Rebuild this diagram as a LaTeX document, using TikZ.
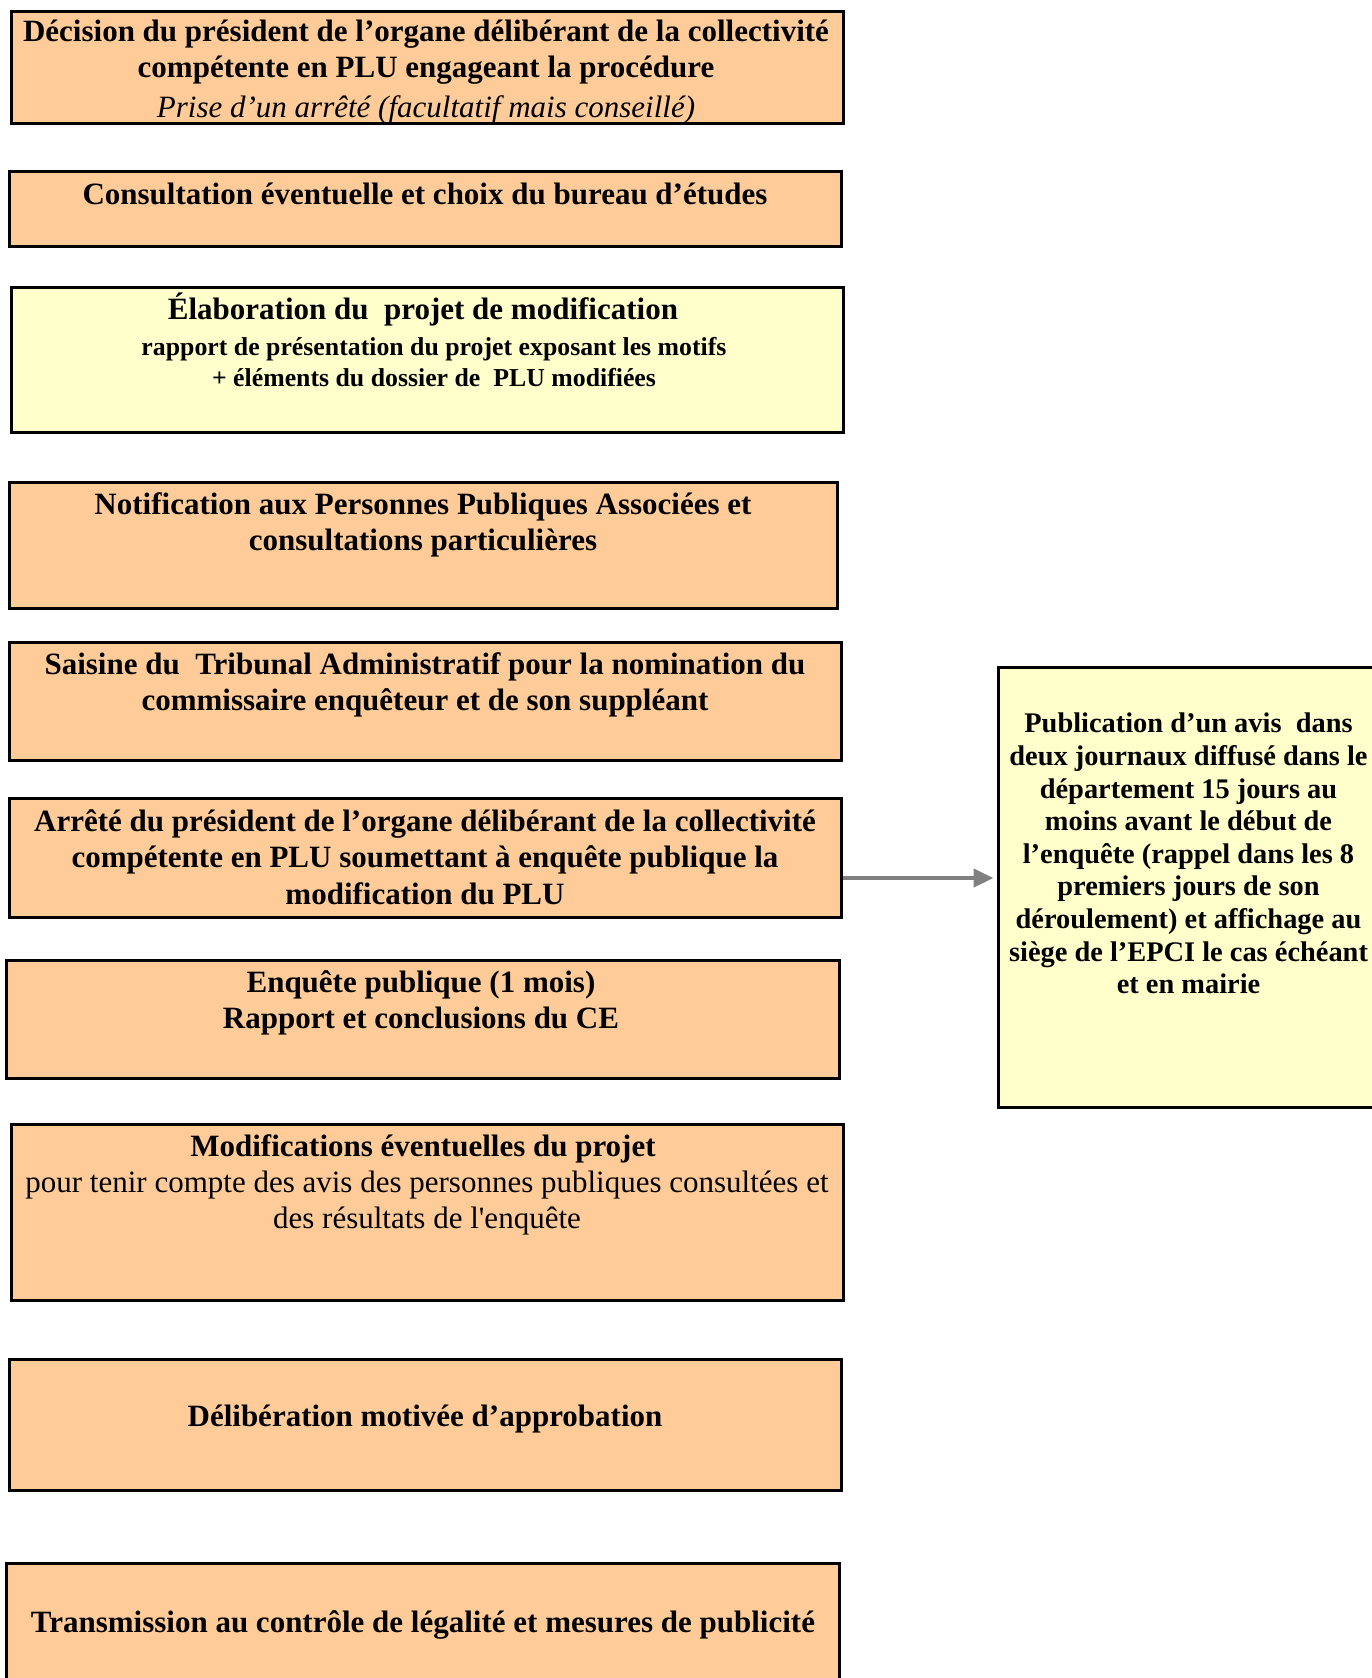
\documentclass[tikz,border=0pt]{standalone}
\usepackage{fontspec}
\setmainfont{Liberation Serif}
\usetikzlibrary{positioning, arrows.meta, calc}
\definecolor{peach}{HTML}{FFCC99}
\definecolor{paleyellow}{HTML}{FFFFCC}
\definecolor{arrowgray}{HTML}{808080}
\tikzset{
    stepbox/.style={draw=black, line width=1.5pt, inner sep=0pt},
    steptext/.style={align=center, inner sep=0pt, font=\fontsize{15.5}{18.2}\selectfont\bfseries},
    stepnote/.style={align=center, inner sep=0pt, font=\fontsize{15.5}{18.2}\selectfont},
    stepsmall/.style={align=center, inner sep=0pt, font=\fontsize{12.9}{15.5}\selectfont\bfseries},
    sidetext/.style={align=center, inner sep=0pt, font=\fontsize{14.2}{16.3}\selectfont\bfseries},
    flow/.style={draw=arrowgray, line width=2.2pt, -{Triangle[length=10pt, width=9pt]}}
}
\begin{document}
\begin{tikzpicture}[x=0.5pt, y=-0.5pt]
    \useasboundingbox (0,0) rectangle (1372,1678);

    % draw the step boxes
    \foreach \name/\cx/\cy/\w/\h/\co in {
        b1/427/67/832/112/peach,
        b2/425/208.5/832/75/peach,
        b3/427/359.5/832/145/paleyellow,
        b4/423/545/828/126/peach,
        b5/425/701/832/118/peach,
        b6/425/857.5/832/119/peach,
        b7/422.5/1019/833/118/peach,
        b8/427/1212/832/176/peach,
        b9/425/1424.5/832/131/peach,
        b10/422.5/1631.5/833/137/peach,
        pub/1194/887/392/440/paleyellow}{

        \node[stepbox, fill=\co, minimum width=\w*0.5pt, minimum height=\h*0.5pt]
            (\name) at (\cx,\cy) {};
    }

    % texts of the boxes
    \node[steptext] (t1) at (426,52)
        {Décision du président de l’organe délibérant de la collectivité\\compétente en PLU engageant la procédure};
    \node[stepnote, font=\fontsize{15.5}{18.2}\selectfont\itshape] (t1b) at (426,110)
        {Prise d’un arrêté (facultatif mais conseillé)};
    \node[steptext] (t2) at (425,194)
        {Consultation éventuelle et choix du bureau d’études};
    \node[steptext] (t3) at (423,309)
        {Élaboration du\ \ projet de modification};
    \node[stepsmall] (t3b) at (434,362)
        {rapport de présentation du projet exposant les motifs\\+ éléments du dossier de\ \ PLU modifiées};
    \node[steptext] (t4) at (423,525)
        {Notification aux Personnes Publiques Associées et\\consultations particulières};
    \node[steptext] (t5) at (425,685)
        {Saisine du\ \ Tribunal Administratif pour la nomination du\\commissaire enquêteur et de son suppléant};
    \node[steptext] (t6) at (425,857)
        {Arrêté du président de l’organe délibérant de la collectivité\\compétente en PLU soumettant à enquête publique la\\modification du PLU};
    \node[steptext] (t7) at (421,1003)
        {Enquête publique (1 mois)\\Rapport et conclusions du CE};
    \node[steptext] (t8) at (423,1149)
        {Modifications éventuelles du projet};
    \node[stepnote] (t8b) at (427,1203)
        {pour tenir compte des avis des personnes publiques consultées et\\des résultats de l\textquotesingle enquête};
    \node[steptext] (t9) at (425,1419)
        {Délibération motivée d’approbation};
    \node[steptext] (t10) at (423,1625)
        {Transmission au contrôle de légalité et mesures de publicité};
    \node[sidetext] (tpub) at (1188.5,853.5)
        {Publication d’un avis\ \ dans\\deux journaux diffusé dans le\\département 15 jours au\\moins avant le début de\\l’enquête (rappel dans les 8\\premiers jours de son\\déroulement) et affichage au\\siège de l’EPCI le cas échéant\\et en mairie};

    % arrow to the publication box
    \coordinate (a6) at ([yshift=-10.25pt]b6.east);
    \draw[flow, shorten >=1.5pt] (a6) -- (a6 -| pub.west);
\end{tikzpicture}
\end{document}
